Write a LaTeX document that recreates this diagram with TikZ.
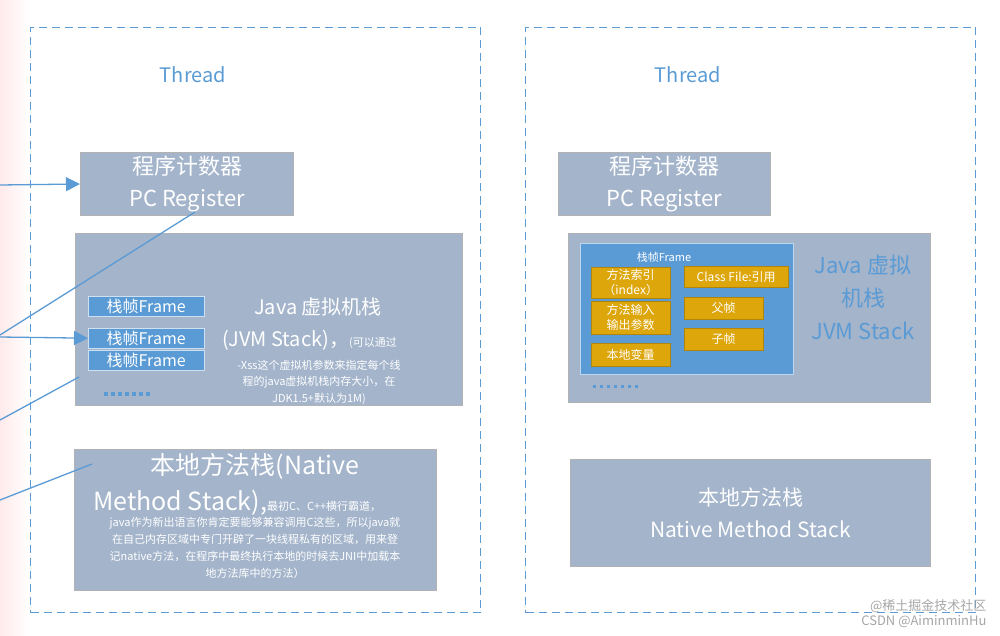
\documentclass[tikz,border=0pt]{standalone}
\usepackage{fontspec}
\setmainfont{Noto Sans CJK SC}
\usetikzlibrary{arrows.meta}
\begin{document}
\begin{tikzpicture}[x=1pt,y=-1pt,
 box/.style={draw=gray!60,fill=boxc,line width=1pt,inner sep=0pt},
 fr/.style={draw=white!70!frc,fill=frc,text=white,inner sep=0pt,font=\fontsize{16}{16}\selectfont},
 yb/.style={draw=yel!80!black,fill=yel,text=white,inner sep=0pt,align=center,font=\fontsize{12}{15}\selectfont},
 wt/.style={text=white,align=center,inner sep=0pt},
 th/.style={draw=frc,line width=1pt,dash pattern=on 8pt off 5pt},
 ln/.style={draw=frc,line width=1.3pt},
 ar/.style={ln,-{Triangle[length=14pt,width=14pt]}},
 dots/.style={draw=frc,line width=4pt,dash pattern=on 4pt off 3pt}]
\definecolor{boxc}{HTML}{A3B4CB}
\definecolor{frc}{HTML}{5B9BD5}
\definecolor{yel}{HTML}{DDA60B}
\useasboundingbox (0,0) rectangle (1000,636);
\fill[left color=red!8,right color=white] (0,0) rectangle (30,636);
\node[th,minimum width=450,minimum height=585,anchor=north west] (t1) at (30,27) {};
\node[th,minimum width=450,minimum height=585,anchor=north west] (t2) at (525,27) {};
\node[text=frc,font=\fontsize{20}{20}\selectfont] (tl1) at (193,75) {Thread};
\node[text=frc,font=\fontsize{20}{20}\selectfont] (tl2) at (688,75) {Thread};
% left
\node[box,minimum width=213,minimum height=63,anchor=north west,wt,font=\fontsize{22}{32}\selectfont] (pc1) at (80,152) {程序计数器\\PC Register};
\node[box,minimum width=387,minimum height=172,anchor=north west] (j1) at (75,233) {};
\node[fr,minimum width=116,minimum height=20,anchor=north west] (f1) at (88,296) {栈帧Frame};
\node[fr,minimum width=116,minimum height=20,anchor=north west] (f2) at (88,328) {栈帧Frame};
\node[fr,minimum width=116,minimum height=20,anchor=north west] (f3) at (88,350) {栈帧Frame};
\coordinate (d1a) at (104,394); \coordinate (d1b) at (152,394);
\draw[dots] (d1a) -- (d1b);
\node[wt,font=\fontsize{20}{20}\selectfont] (jt1) at (318,307) {Java 虚拟机栈};
\node[wt,anchor=west] (jt2) at (222,340) {\fontsize{20}{20}\selectfont(JVM Stack)，\fontsize{11}{11}\selectfont(可以通过};
\node[wt,font=\fontsize{11}{16.5}\selectfont] (jt3) at (319,382) {-Xss这个虚拟机参数来指定每个线\\程的java虚拟机栈内存大小，在\\JDK1.5+默认为1M)};
\node[box,minimum width=362,minimum height=141,anchor=north west] (n1) at (74,449) {};
\node[wt,font=\fontsize{25}{25}\selectfont] (nt1) at (255,466) {本地方法栈(Native};
\node[wt,anchor=west] (nt2) at (93,503) {\fontsize{25}{25}\selectfont Method Stack),\fontsize{11}{11}\selectfont 最初C、C++横行霸道，};
\node[wt,font=\fontsize{11}{17}\selectfont] (nt3) at (255,548) {java作为新出语言你肯定要能够兼容调用C这些，所以java就\\在自己内存区域中专门开辟了一块线程私有的区域，用来登\\记native方法，在程序中最终执行本地的时候去JNI中加载本\\地方法库中的方法）};
\coordinate (a0) at (0,185);
\coordinate (a1) at (0,335);
\coordinate (a2) at (0,337);
\coordinate (a3) at (0,420);
\coordinate (a4) at (0,500);
\coordinate (e1) at (195,212);
\coordinate (e2) at (79,377);
\coordinate (e3) at (92,464);
\draw[ar] (a0) -- (pc1.west);
\draw[ln] (a1) -- (e1);
\draw[ar] (a2) -- (f2.west);
\draw[ln] (a3) -- (e2);
\draw[ln] (a4) -- (e3);
% right
\node[box,minimum width=212,minimum height=63,anchor=north west,wt,font=\fontsize{22}{32}\selectfont] (pc2) at (558,152) {程序计数器\\PC Register};
\node[box,minimum width=362,minimum height=169,anchor=north west] (j2) at (568,233) {};
\node[fill=frc,draw=white!60!frc,minimum width=213,minimum height=131,anchor=north west,inner sep=0pt] (fr2) at (580,243) {};
\node[wt,font=\fontsize{11}{11}\selectfont] (frl) at (664,257) {栈帧Frame};
\node[yb,minimum width=79,minimum height=31,anchor=north west] (y1) at (591,267) {方法索引\\（index）};
\node[yb,minimum width=79,minimum height=33,anchor=north west] (y2) at (591,301) {方法输入\\输出参数};
\node[yb,minimum width=79,minimum height=23,anchor=north west] (y3) at (591,343) {本地变量};
\node[yb,minimum width=104,minimum height=21,anchor=north west] (y4) at (684,266) {Class File:引用};
\node[yb,minimum width=79,minimum height=22,anchor=north west] (y5) at (684,297) {父帧};
\node[yb,minimum width=79,minimum height=22,anchor=north west] (y6) at (684,328) {子帧};
\coordinate (d2a) at (593,386); \coordinate (d2b) at (641,386);
\draw[dots,line width=3pt,dash pattern=on 3pt off 4pt] (d2a) -- (d2b);
\node[text=frc,align=center,font=\fontsize{22}{33}\selectfont] (jr) at (863,297) {Java 虚拟\\机栈\\JVM Stack};
\node[box,minimum width=360,minimum height=107,anchor=north west,wt,font=\fontsize{21}{32}\selectfont] (n2) at (570,459) {本地方法栈\\Native Method Stack};
\node[text=gray!70,anchor=east,font=\fontsize{13}{13}\selectfont] (w1) at (990,606) {@稀土掘金技术社区};
\node[text=gray!70,anchor=east,font=\fontsize{13}{13}\selectfont] (w2) at (990,622) {CSDN @AiminminHu};
\end{tikzpicture}
\end{document}
